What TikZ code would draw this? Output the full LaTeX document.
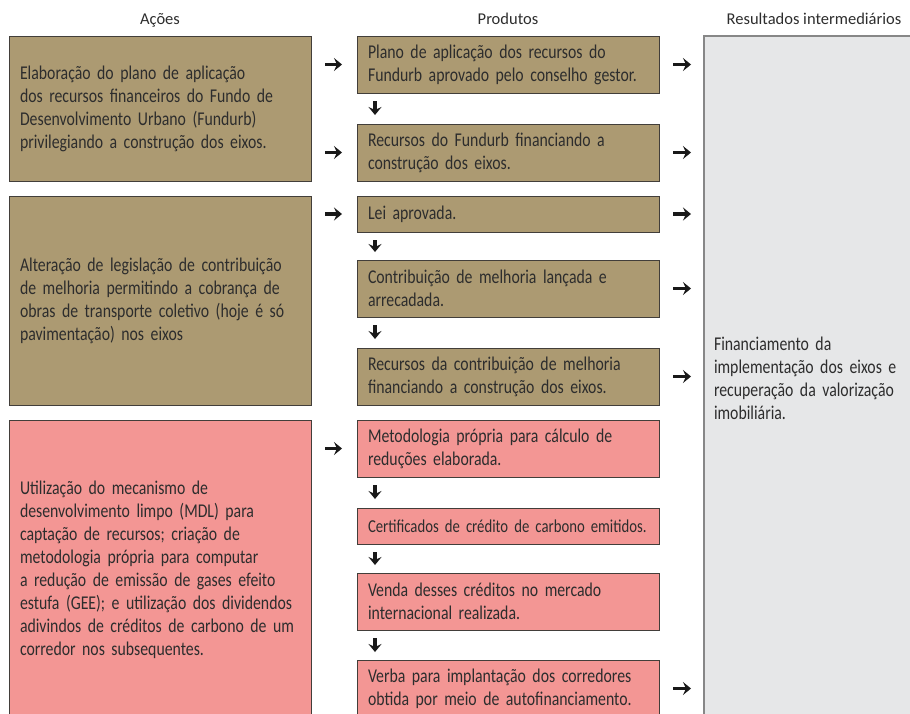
\documentclass[tikz,border=0pt]{standalone}
\usepackage{fontspec}
\newfontfamily\bodyfont[FakeStretch=0.81]{Carlito}
\newfontfamily\headfont{Carlito}
\usepackage{xcolor}
\usepackage{tikz}
\usetikzlibrary{arrows.meta, positioning}
\definecolor{tanFill}{RGB}{172, 154, 114}
\definecolor{roseFill}{RGB}{243, 150, 148}
\definecolor{resultGray}{RGB}{230, 231, 232}
\definecolor{borderDark}{RGB}{66, 62, 58}
\definecolor{borderGray}{RGB}{135, 135, 135}
\definecolor{textDark}{RGB}{45, 45, 45}

\begin{document}
\begin{tikzpicture}[
    node distance=31pt,
    header/.style={
        inner sep=0pt,
        text height=11pt,
        text depth=4pt,
        font=\headfont\fontsize{16.5}{19}\selectfont,
        text=textDark
    },
    actionbox/.style={
        rectangle,
        draw=borderDark,
        line width=0.8pt,
        outer sep=0pt,
        inner xsep=11pt,
        inner ysep=0pt,
        text width=280pt,
        align=left,
        font=\bodyfont\fontsize{19.5}{23}\selectfont,
        text=textDark
    },
    prodbox/.style={
        actionbox,
        minimum height=57pt
    },
    shortbox/.style={
        actionbox,
        minimum height=36pt
    },
    resbox/.style={
        rectangle,
        draw=borderGray,
        line width=1.2pt,
        outer sep=0pt,
        fill=resultGray,
        inner xsep=10pt,
        text width=200pt,
        align=left,
        font=\bodyfont\fontsize{19.5}{23}\selectfont,
        text=textDark
    },
    flowarrow/.style={
        -{Stealth[length=8pt, width=13pt, inset=3pt]},
        line width=3.5pt,
        draw=black!90
    }
]
\useasboundingbox (0,0) rectangle (910pt,-713pt);
\clip (0,0) rectangle (910pt,-713pt);

% Middle column - Produtos
\node[prodbox, fill=tanFill, anchor=north west] (p1) at (357pt,-36pt) {Plano de aplicação dos recursos do\\Fundurb aprovado pelo conselho gestor.};
\node[prodbox, fill=tanFill, below=of p1] (p2) {Recursos do Fundurb financiando a\\construção dos eixos.};
\node[shortbox, fill=tanFill, below=15pt of p2] (p3) {Lei aprovada.};
\node[prodbox, fill=tanFill, below=28pt of p3] (p4) {Contribuição de melhoria lançada e\\arrecadada.};
\node[prodbox, fill=tanFill, below=of p4] (p5) {Recursos da contribuição de melhoria\\financiando a construção dos eixos.};
\node[prodbox, fill=roseFill, below=15pt of p5] (p6) {Metodologia própria para cálculo de\\reduções elaborada.};
\node[shortbox, fill=roseFill, below=of p6, font=\bodyfont\fontsize{18.2}{23}\selectfont] (p7) {Certificados de crédito de carbono emitidos.};
\node[prodbox, fill=roseFill, below=29pt of p7] (p8) {Venda desses créditos no mercado\\internacional realizada.};
\node[prodbox, fill=roseFill, below=30pt of p8] (p9) {Verba para implantação dos corredores\\obtida por meio de autofinanciamento.};

% Left column - Ações
\node[actionbox, fill=tanFill, minimum height=145pt, anchor=north east] (a1) at ([xshift=-46pt]p1.north west) {Elaboração do plano de aplicação\\dos recursos financeiros do Fundo de\\Desenvolvimento Urbano (Fundurb)\\privilegiando a construção dos eixos.};
\node[actionbox, fill=tanFill, minimum height=209pt, anchor=north east] (a2) at ([xshift=-46pt]p3.north west) {Alteração de legislação de contribuição\\de melhoria permitindo a cobrança de\\obras de transporte coletivo (hoje é só\\pavimentação) nos eixos};
\node[actionbox, fill=roseFill, minimum height=300pt, anchor=north east] (a3) at ([xshift=-46pt]p6.north west) {Utilização do mecanismo de\\desenvolvimento limpo (MDL) para\\captação de recursos; criação de\\metodologia própria para computar\\a redução de emissão de gases efeito\\estufa (GEE); e utilização dos dividendos\\adivindos de créditos de carbono de um\\corredor nos subsequentes.};

% Right column - Resultados intermediários
\node[resbox, minimum width=220pt, minimum height=684pt, anchor=north west] (res) at ([xshift=45pt]p1.north east) {Financiamento da\\implementação dos eixos e\\recuperação da valorização\\imobiliária.};

% Column headers
\node[header, above=7pt of a1] {Ações};
\node[header, above=7pt of p1] {Produtos};
\node[header, above=7pt of res] {Resultados intermediários};

% Arrows from actions to products
\draw[flowarrow, shorten <=14pt, shorten >=15pt] (a1.east |- p1.west) -- (p1.west);
\draw[flowarrow, shorten <=14pt, shorten >=15pt] (a1.east |- p2.west) -- (p2.west);
\draw[flowarrow, shorten <=14pt, shorten >=15pt] (a2.east |- p3.west) -- (p3.west);
\draw[flowarrow, shorten <=14pt, shorten >=15pt] (a3.east |- p6.west) -- (p6.west);

% Arrows between products
\draw[flowarrow, shorten <=8pt, shorten >=9pt] ([xshift=18pt]p1.south west) -- ([xshift=18pt]p2.north west);
\draw[flowarrow, shorten <=8pt, shorten >=8pt] ([xshift=18pt]p3.south west) -- ([xshift=18pt]p4.north west);
\draw[flowarrow, shorten <=8pt, shorten >=9pt] ([xshift=18pt]p4.south west) -- ([xshift=18pt]p5.north west);
\draw[flowarrow, shorten <=8pt, shorten >=9pt] ([xshift=18pt]p6.south west) -- ([xshift=18pt]p7.north west);
\draw[flowarrow, shorten <=8pt, shorten >=8pt] ([xshift=18pt]p7.south west) -- ([xshift=18pt]p8.north west);
\draw[flowarrow, shorten <=8pt, shorten >=8pt] ([xshift=18pt]p8.south west) -- ([xshift=18pt]p9.north west);

% Arrows from products to results
\draw[flowarrow, shorten <=14pt, shorten >=13pt] (p1.east) -- (p1.east -| res.west);
\draw[flowarrow, shorten <=14pt, shorten >=13pt] (p2.east) -- (p2.east -| res.west);
\draw[flowarrow, shorten <=14pt, shorten >=13pt] (p3.east) -- (p3.east -| res.west);
\draw[flowarrow, shorten <=14pt, shorten >=13pt] (p4.east) -- (p4.east -| res.west);
\draw[flowarrow, shorten <=14pt, shorten >=13pt] (p5.east) -- (p5.east -| res.west);
\draw[flowarrow, shorten <=14pt, shorten >=13pt] (p9.east) -- (p9.east -| res.west);

\end{tikzpicture}
\end{document}
